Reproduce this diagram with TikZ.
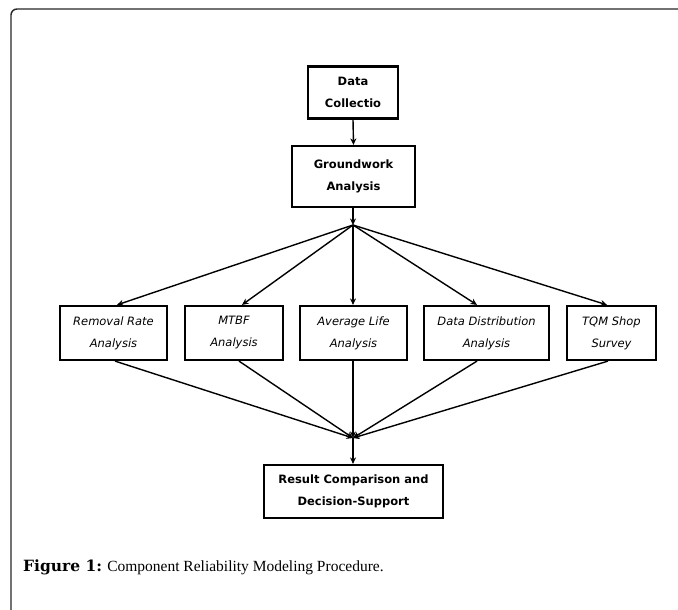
\documentclass[tikz,border=0pt]{standalone}
\usepackage{fontspec}
\setmainfont{Liberation Serif}
\newfontfamily\boxfont{DejaVu Sans}
\newfontfamily\capboldfont{DejaVu Serif}
\usetikzlibrary{arrows.meta,calc}
\tikzset{
  stagebox/.style={draw=black, line width=2.2pt, fill=white, align=center, inner sep=0pt,
    font=\boxfont\fontsize{11.5}{22}\selectfont},
  boldbox/.style={stagebox, font=\boxfont\bfseries\fontsize{11.5}{22}\selectfont},
  itbox/.style={stagebox, font=\boxfont\itshape\fontsize{11.5}{22}\selectfont},
  conn/.style={line width=1.4pt, -{Stealth[length=6.5pt,width=6pt]}},
  frame/.style={draw=black!85, line width=1.4pt, rounded corners=6pt}
}
\begin{document}
\begin{tikzpicture}[x=1pt,y=-1pt]
\useasboundingbox (0,0) rectangle (678,610);
\draw[frame] (11,615) -- (11,9) -- (683,9);

\node[boldbox, minimum width=90pt, minimum height=52pt] (data) at (353,92.5) {Data\\Collectio};
\node[boldbox, minimum width=123pt, minimum height=61pt] (ground) at (353.5,176.5) {Groundwork\\Analysis};
\coordinate (j1) at (353,225);

\node[itbox, minimum width=107pt, minimum height=54pt] (rem) at (113.5,333) {Removal Rate\\Analysis};
\node[itbox, minimum width=98pt, minimum height=54pt] (mtbf) at (234,333) {MTBF\\Analysis};
\node[itbox, minimum width=107pt, minimum height=54pt] (avg) at (353.5,333) {Average Life\\Analysis};
\node[itbox, minimum width=125pt, minimum height=54pt] (dist) at (486.5,333) {Data Distribution\\Analysis};
\node[itbox, minimum width=89pt, minimum height=54pt] (tqm) at (611.5,333) {TQM Shop\\Survey};

\coordinate (j2) at (353,438);
\node[boldbox, minimum width=179pt, minimum height=53pt] (res) at (353.5,491.5) {Result Comparison and\\Decision-Support};

\draw[conn] (data.south) -- (ground.north);
\draw[conn] (ground.south -| j1) -- (j1);
\draw[conn] (j1) -- ($(rem.north)+(3.5,0)$);
\draw[conn] (j1) -- ($(mtbf.north)+(8,0)$);
\draw[conn] (j1) -- (avg.north -| j1);
\draw[conn] (j1) -- ($(dist.north)+(-9.5,0)$);
\draw[conn] (j1) -- ($(tqm.north)+(-4.5,0)$);

\draw[conn] ($(rem.south)+(1.5,0)$) -- (j2);
\draw[conn] ($(mtbf.south)+(5,0)$) -- (j2);
\draw[conn] (avg.south -| j2) -- (j2);
\draw[conn] ($(dist.south)+(-9.5,0)$) -- (j2);
\draw[conn] ($(tqm.south)+(-3.5,0)$) -- (j2);
\draw[conn] (j2) -- (res.north -| j2);

\node[anchor=base west, inner sep=0pt, font=\fontsize{15.5}{18}\selectfont] (cap) at (23,571)
  {{\capboldfont\bfseries Figure 1:} Component Reliability Modeling Procedure.};
\end{tikzpicture}
\end{document}
